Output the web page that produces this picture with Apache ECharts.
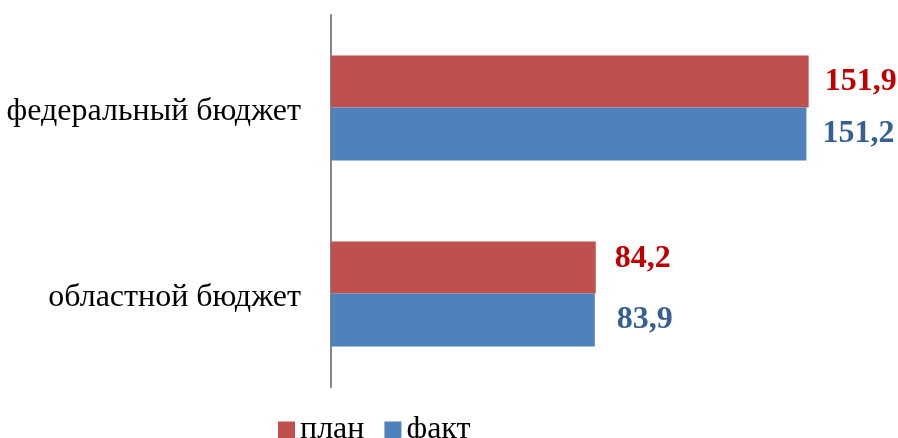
<!DOCTYPE html>
<html>
<head>
<meta charset="utf-8">
<script src="https://cdn.jsdelivr.net/npm/echarts@6/dist/echarts.min.js"></script>
<style>html,body{margin:0;padding:0;background:#fff;}#c{width:898px;height:438px;}</style>
</head>
<body>
<div id="c"></div>
<script>
var categories = ['федеральный бюджет', 'областной бюджет'];
var planValues = [151.9, 84.2];
var factValues = [151.2, 83.9];
var seriesNames = ['план', 'факт'];
var titleText = 'Кассовое исполнение за 2017-2019 годы, млн. руб.';

var planLabelOffsets = [[0, 0], [3, -9]];
var factLabelOffsets = [[0, 0], [6, 0]];

var chart = echarts.init(document.getElementById('c'), null, {renderer: 'canvas'});
function fmt(p) { return String(p.value.toFixed(1)).replace('.', ','); }
var serif = '"Liberation Serif", "Times New Roman", serif';
function withOffsets(vals, offs) {
  return vals.map(function (v, i) { return {value: v, label: {offset: offs[i]}}; });
}
chart.setOption({
  animation: false,
  backgroundColor: '#ffffff',
  graphic: [{
    type: 'text', right: 533, top: -33,
    style: {text: titleText, font: 'bold 32px ' + serif, fill: '#000'}
  }],
  legend: {
    data: seriesNames,
    left: 273, top: 409,
    itemWidth: 17, itemHeight: 17, itemGap: 20,
    icon: 'rect',
    textStyle: {fontFamily: serif, fontSize: 32, color: '#000', padding: [0, 0, 0, 0]}
  },
  grid: {left: 331, top: 15, width: 566, height: 372, containLabel: false},
  xAxis: {
    type: 'value', min: 0, max: 180,
    show: false,
    splitLine: {show: false}
  },
  yAxis: {
    type: 'category', data: categories, inverse: true,
    axisLine: {show: true, lineStyle: {color: '#868686', width: 2}},
    axisTick: {show: false},
    axisLabel: {
      margin: 30,
      formatter: function (v) { return '{a|' + v + '}'; },
      rich: {a: {fontFamily: serif, fontSize: 32, color: '#000', padding: [8, 0, 0, 0]}}
    }
  },
  series: [
    {
      name: seriesNames[0], type: 'bar', data: withOffsets(planValues, planLabelOffsets),
      barWidth: 52, barGap: '0%',
      itemStyle: {color: '#C0504D'},
      label: {show: true, position: 'right', distance: 16, formatter: fmt,
        fontFamily: serif, fontSize: 32, fontWeight: 'bold', color: '#C00000'}
    },
    {
      name: seriesNames[1], type: 'bar', data: withOffsets(factValues, factLabelOffsets),
      barWidth: 53, barGap: '0%',
      itemStyle: {color: '#4F81BD'},
      label: {show: true, position: 'right', distance: 16, formatter: fmt,
        fontFamily: serif, fontSize: 32, fontWeight: 'bold', color: '#376092'}
    }
  ]
});
</script>
</body>
</html>
